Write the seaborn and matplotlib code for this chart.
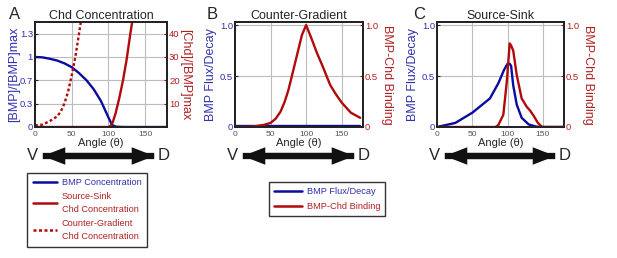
import numpy as np
import pandas as pd
import matplotlib
matplotlib.use("Agg")
import matplotlib.pyplot as plt
import seaborn as sns
from matplotlib.lines import Line2D
from matplotlib.patches import FancyArrowPatch

# %% Data read off the reference
# Panel A - BMP concentration (left axis) and Chd concentrations (right axis)
a_bmp_angle = [0, 10, 20, 30, 40, 50, 60, 70, 80, 90, 100, 105, 110, 120, 180]
a_bmp_conc = [1.0, 0.995, 0.975, 0.95, 0.91, 0.855, 0.77, 0.67, 0.54, 0.37, 0.14, 0.03, 0.005, 0.0, 0.0]

a_ss_angle = [0, 100, 103, 106, 110, 115, 120, 125, 130, 134]
a_ss_chd = [0, 0, 0.5, 2, 6, 12.5, 20, 29, 40, 48]

a_cg_angle = [0, 10, 20, 30, 35, 40, 45, 50, 55, 60, 64]
a_cg_chd = [0.7, 1.0, 2.5, 4.5, 6.5, 10, 15, 22, 30, 40, 48]

# Panel B - counter-gradient
b_angle = [0, 20, 31, 40, 50, 57, 64, 70, 75, 80, 87, 94, 100, 108, 115, 123, 134, 142, 150, 163, 176]
b_flux = [0.005] * len(b_angle)
b_binding = [0, 0.002, 0.01, 0.02, 0.04, 0.08, 0.15, 0.25, 0.36, 0.5, 0.70, 0.9, 1.0, 0.86, 0.73, 0.6, 0.41, 0.32, 0.24, 0.14, 0.09]

# Panel C - source-sink
c_flux_angle = [0, 26, 50, 75, 87, 95, 100, 103, 105, 108, 113, 120, 130, 140, 146, 180]
c_flux = [0, 0.04, 0.14, 0.28, 0.43, 0.56, 0.62, 0.62, 0.6, 0.41, 0.22, 0.09, 0.025, 0.005, 0, 0]

c_bind_angle = [0, 83, 87, 94, 99, 103, 105, 108, 113, 120, 127, 132, 137, 143, 149, 180]
c_binding = [0, 0, 0.02, 0.12, 0.45, 0.82, 0.80, 0.75, 0.51, 0.28, 0.2, 0.16, 0.11, 0.04, 0, 0]

BLUE = "#0b0b9e"
RED = "#b00a0a"
BLUE_TXT = "#3030b0"
RED_TXT = "#b02020"
GRAY_TXT = "#555555"

# %% Style
sns.set_style("white")
plt.rcParams["font.family"] = ["Liberation Sans", "DejaVu Sans"]

fig = plt.figure(figsize=(6.17, 2.58), dpi=100)

W, H = 617, 258


def px_axes(x0, x1, y0, y1):
    return fig.add_axes([x0 / W, 1 - y1 / H, (x1 - x0) / W, (y1 - y0) / H])


def style_axes(ax, axr, title, lab_l, lab_r, lab_size, xl, xr):
    ax.set_xlim(0, 180)
    ax.set_xticks([0, 50, 100, 150])
    ax.set_xlabel("Angle (θ)", fontsize=8, labelpad=0)
    ax.tick_params(axis="x", labelsize=6, labelcolor=GRAY_TXT, direction="in", length=2, pad=3)
    ax.tick_params(axis="y", labelsize=6.8, labelcolor=BLUE_TXT, direction="in", length=2, pad=1.5)
    axr.tick_params(axis="y", labelsize=6.8, labelcolor=RED_TXT, direction="in", length=2, pad=1.5, color=RED)
    ax.set_ylabel(lab_l, color=BLUE_TXT, fontsize=lab_size, va="center")
    axr.set_ylabel(lab_r, color=RED_TXT, fontsize=lab_size, rotation=270, va="center")
    ax.yaxis.set_label_coords(xl, 0.5)
    axr.yaxis.set_label_coords(xr, 0.5)
    ax.set_title(title, fontsize=9, pad=2)
    ax.grid(True, color="#bdbdbd", lw=0.8)
    ax.set_axisbelow(True)
    for a in (ax, axr):
        for s in a.spines.values():
            s.set_linewidth(1.3)
            s.set_color("#222222")


# %% Panel A
axA = px_axes(35, 167, 22, 127)
axAr = axA.twinx()
sns.lineplot(x=a_bmp_angle, y=a_bmp_conc, color=BLUE, lw=1.7, ax=axA, sort=False)
sns.lineplot(x=a_ss_angle, y=a_ss_chd, color=RED, lw=1.7, ax=axAr, sort=False)
sns.lineplot(x=a_cg_angle, y=a_cg_chd, color=RED, lw=1.7, linestyle=(0, (1.2, 1.0)), ax=axAr, sort=False)
axA.set_ylim(0, 1.5)
axAr.set_ylim(0, 45)
axA.set_yticks([0, 1 / 3, 2 / 3, 1, 4 / 3])
axA.set_yticklabels(["0", "0.3", "0.7", "1", "1.3"])
axAr.set_yticks([10, 20, 30, 40])
style_axes(axA, axAr, "Chd Concentration", "[BMP]/[BMP]max", "[Chd]/[BMP]max", 9, -0.16, 1.136)

# %% Panel B
axB = px_axes(235, 363, 22, 127)
axBr = axB.twinx()
sns.lineplot(x=b_angle, y=b_flux, color=BLUE, lw=1.7, ax=axB, sort=False)
sns.lineplot(x=b_angle, y=b_binding, color=RED, lw=1.7, ax=axBr, sort=False)
for a in (axB, axBr):
    a.set_ylim(0, 1.03)
    a.set_yticks([0, 0.5, 1.0])
    a.set_yticklabels(["0", "0.5", "1.0"])
style_axes(axB, axBr, "Counter-Gradient", "BMP Flux/Decay", "BMP-Chd Binding", 9, -0.1875, 1.1875)

# %% Panel C
axC = px_axes(437, 564, 22, 127)
axCr = axC.twinx()
sns.lineplot(x=c_flux_angle, y=c_flux, color=BLUE, lw=1.7, ax=axC, sort=False)
sns.lineplot(x=c_bind_angle, y=c_binding, color=RED, lw=1.7, ax=axCr, sort=False)
for a in (axC, axCr):
    a.set_ylim(0, 1.03)
    a.set_yticks([0, 0.5, 1.0])
    a.set_yticklabels(["0", "0.5", "1.0"])
style_axes(axC, axCr, "Source-Sink", "BMP Flux/Decay", "BMP-Chd Binding", 9, -0.189, 1.189)

# %% Panel letters and V<->D arrows
for letter, xp in [("A", 9), ("B", 207), ("C", 413)]:
    fig.text(xp / W, 1 - 19 / H, letter, fontsize=12, ha="left", va="baseline")

style = "simple,head_width=1.4,head_length=1.8,tail_width=0.5"
for xl, xr in [(40, 157), (240, 357), (442, 558)]:
    for p0, p1 in [(xl, xr), (xr, xl)]:
        fig.add_artist(FancyArrowPatch(
            (p0 / W, 1 - 156 / H), (p1 / W, 1 - 156 / H),
            transform=fig.transFigure, arrowstyle=style,
            mutation_scale=9, color="#111111", lw=0,
        ))
    fig.text((xl - 2) / W, 1 - 156 / H, "V", fontsize=12, ha="right", va="center")
    fig.text((xr + 1) / W, 1 - 156 / H, "D", fontsize=12, ha="left", va="center")

# %% Legends
h1 = [
    Line2D([], [], color=BLUE, lw=1.8),
    Line2D([], [], color=RED, lw=1.8),
    Line2D([], [], color=RED, lw=1.8, linestyle=(0, (1.2, 1.0))),
]
l1 = ["BMP Concentration", "Source-Sink\nChd Concentration", "Counter-Gradient\nChd Concentration"]
leg1 = fig.legend(h1, l1, loc="upper left", bbox_to_anchor=(27 / W, 1 - 173 / H),
                  fontsize=6.6, labelcolor=[BLUE_TXT, RED_TXT, RED_TXT],
                  frameon=True, fancybox=False, edgecolor="black", handlelength=2.7,
                  handletextpad=0.5, borderpad=0.6, labelspacing=0.5, borderaxespad=0)
leg1.get_frame().set_linewidth(1.0)
for t in leg1.get_texts():
    t.set_linespacing(1.6)

h2 = [Line2D([], [], color=BLUE, lw=1.8), Line2D([], [], color=RED, lw=1.8)]
l2 = ["BMP Flux/Decay", "BMP-Chd Binding"]
leg2 = fig.legend(h2, l2, loc="upper left", bbox_to_anchor=(269 / W, 1 - 182 / H),
                  fontsize=6.7, labelcolor=[BLUE_TXT, RED_TXT],
                  frameon=True, fancybox=False, edgecolor="black", handlelength=3.0,
                  handletextpad=0.5, borderpad=0.55, labelspacing=0.65, borderaxespad=0)
leg2.get_frame().set_linewidth(1.0)

fig.savefig("out.png", dpi=100)
